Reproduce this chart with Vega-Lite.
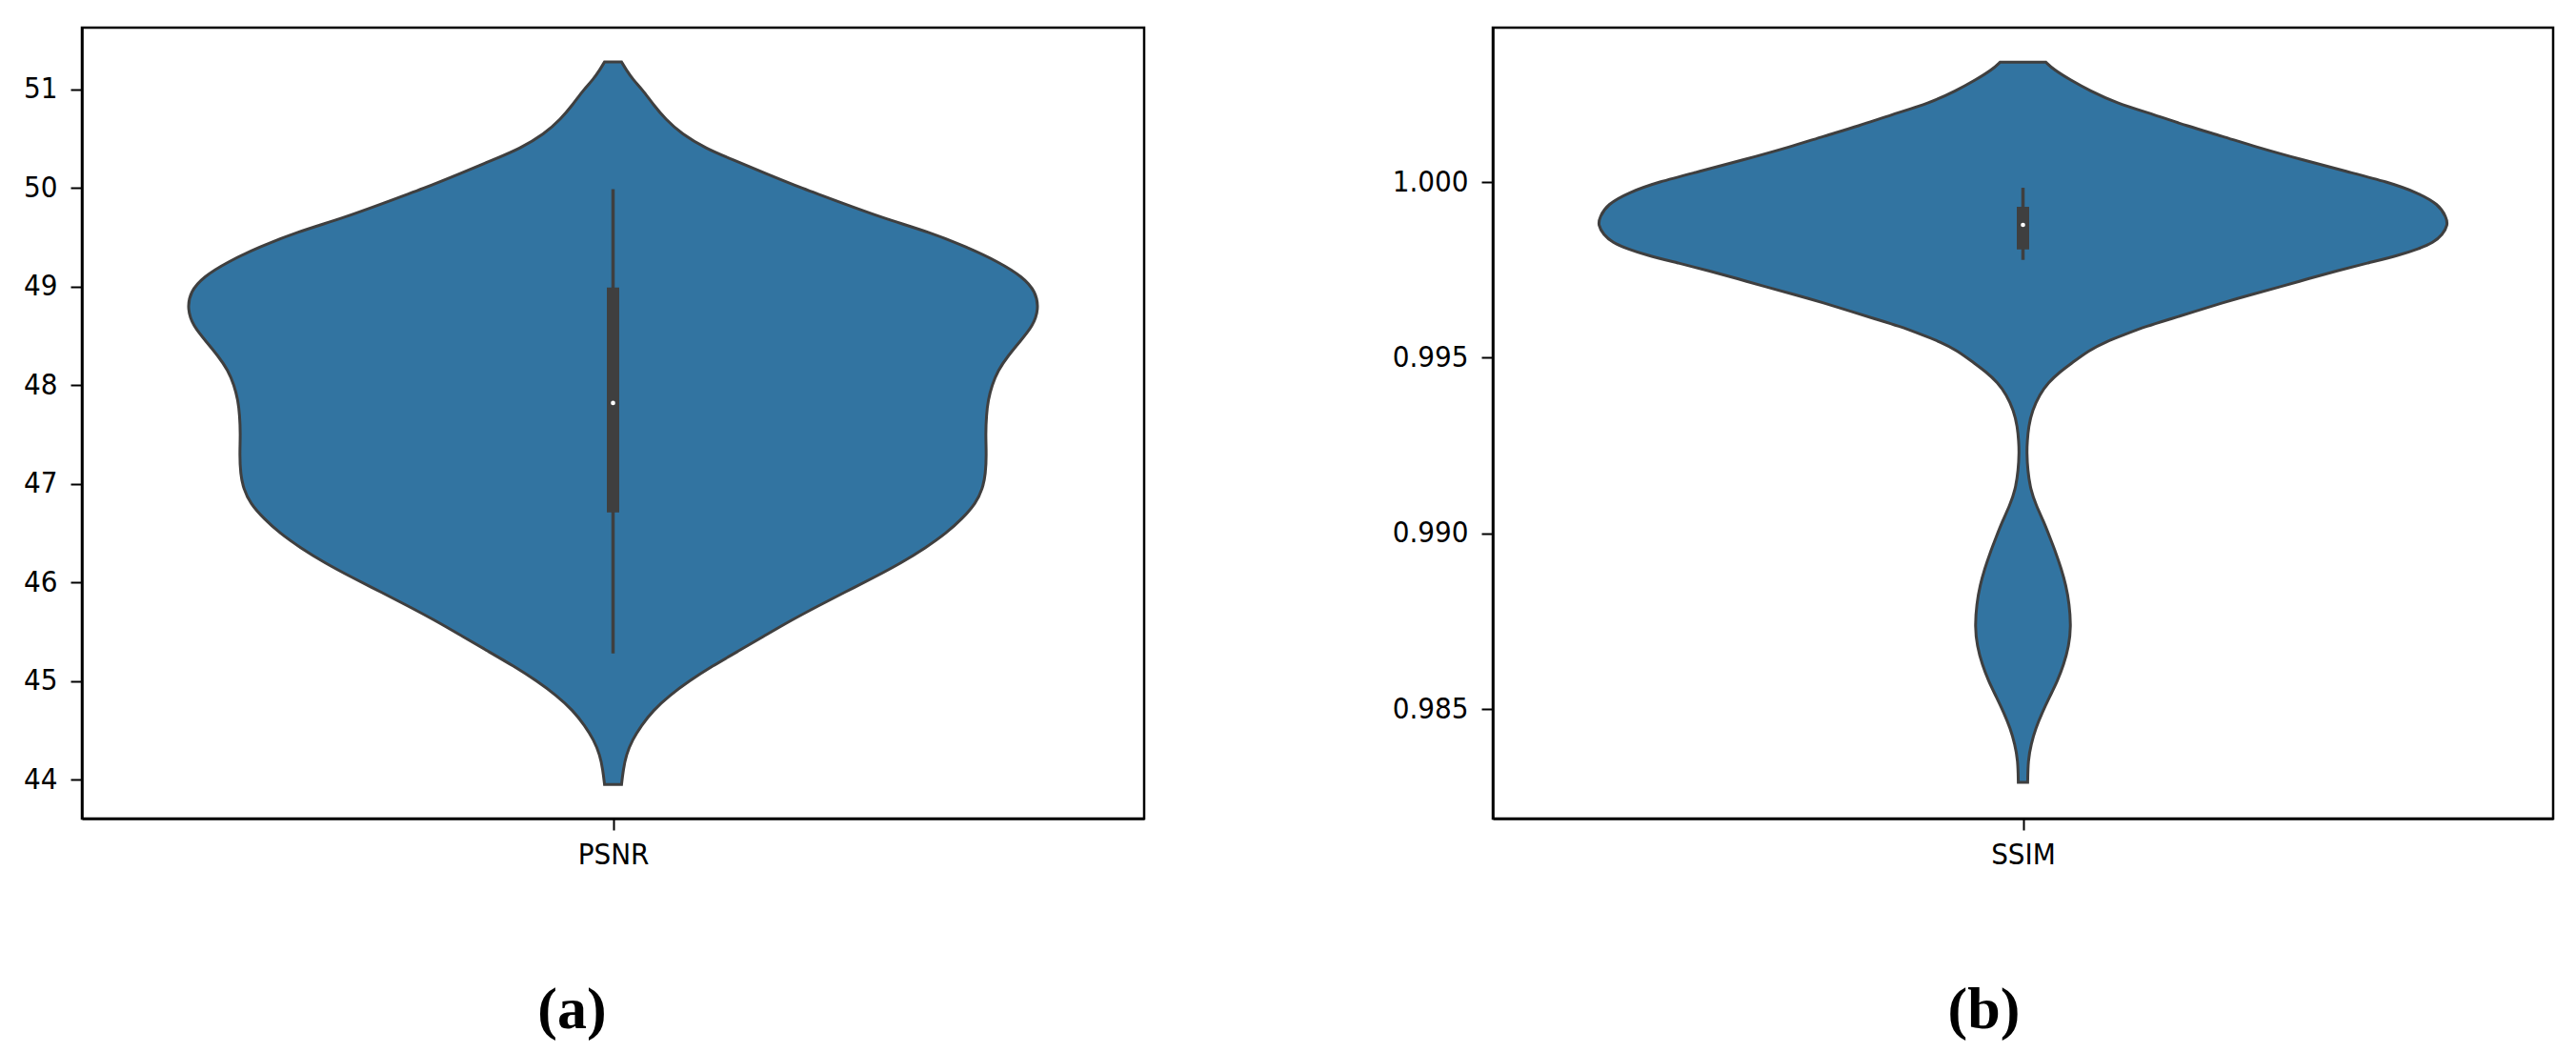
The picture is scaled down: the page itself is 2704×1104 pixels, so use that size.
{
  "$schema": "https://vega.github.io/schema/vega-lite/v6.json",
  "background": "white",
  "padding": {"left": 23, "top": 27, "right": 10, "bottom": 5},
  "spacing": 256,
  "datasets": {
    "psnr": [
      {"value": 51.28, "density": 0.020},
      {"value": 51.20, "density": 0.031},
      {"value": 51.10, "density": 0.047},
      {"value": 51.00, "density": 0.069},
      {"value": 50.85, "density": 0.094},
      {"value": 50.70, "density": 0.123},
      {"value": 50.55, "density": 0.161},
      {"value": 50.40, "density": 0.219},
      {"value": 50.29, "density": 0.280},
      {"value": 50.15, "density": 0.358},
      {"value": 50.00, "density": 0.443},
      {"value": 49.85, "density": 0.537},
      {"value": 49.70, "density": 0.631},
      {"value": 49.55, "density": 0.745},
      {"value": 49.40, "density": 0.832},
      {"value": 49.25, "density": 0.906},
      {"value": 49.10, "density": 0.962},
      {"value": 48.95, "density": 0.993},
      {"value": 48.77, "density": 1.000},
      {"value": 48.60, "density": 0.986},
      {"value": 48.45, "density": 0.957},
      {"value": 48.30, "density": 0.928},
      {"value": 48.15, "density": 0.904},
      {"value": 48.00, "density": 0.890},
      {"value": 47.85, "density": 0.881},
      {"value": 47.70, "density": 0.877},
      {"value": 47.50, "density": 0.875},
      {"value": 47.30, "density": 0.877},
      {"value": 47.10, "density": 0.875},
      {"value": 46.95, "density": 0.868},
      {"value": 46.80, "density": 0.852},
      {"value": 46.65, "density": 0.821},
      {"value": 46.50, "density": 0.783},
      {"value": 46.35, "density": 0.734},
      {"value": 46.20, "density": 0.678},
      {"value": 46.05, "density": 0.613},
      {"value": 45.90, "density": 0.544},
      {"value": 45.75, "density": 0.477},
      {"value": 45.60, "density": 0.412},
      {"value": 45.45, "density": 0.353},
      {"value": 45.30, "density": 0.293},
      {"value": 45.15, "density": 0.233},
      {"value": 45.00, "density": 0.179},
      {"value": 44.85, "density": 0.132},
      {"value": 44.70, "density": 0.094},
      {"value": 44.55, "density": 0.067},
      {"value": 44.40, "density": 0.045},
      {"value": 44.25, "density": 0.031},
      {"value": 44.10, "density": 0.024},
      {"value": 43.95, "density": 0.020}
    ],
    "psnr_box": [
      {"metric": "PSNR", "whisker_lo": 45.28, "q1": 46.71, "median": 47.82, "q3": 48.99, "whisker_hi": 49.99}
    ],
    "ssim": [
      {"value": 1.00341, "density": 0.054},
      {"value": 1.00320, "density": 0.072},
      {"value": 1.00290, "density": 0.112},
      {"value": 1.00260, "density": 0.157},
      {"value": 1.00226, "density": 0.217},
      {"value": 1.00190, "density": 0.313},
      {"value": 1.00160, "density": 0.385},
      {"value": 1.00130, "density": 0.470},
      {"value": 1.00100, "density": 0.548},
      {"value": 1.00063, "density": 0.658},
      {"value": 1.00030, "density": 0.761},
      {"value": 1.00000, "density": 0.859},
      {"value": 0.99970, "density": 0.928},
      {"value": 0.99937, "density": 0.978},
      {"value": 0.99900, "density": 0.996},
      {"value": 0.99878, "density": 1.000},
      {"value": 0.99850, "density": 0.987},
      {"value": 0.99828, "density": 0.966},
      {"value": 0.99810, "density": 0.931},
      {"value": 0.99792, "density": 0.886},
      {"value": 0.99770, "density": 0.812},
      {"value": 0.99747, "density": 0.738},
      {"value": 0.99725, "density": 0.671},
      {"value": 0.99702, "density": 0.606},
      {"value": 0.99680, "density": 0.537},
      {"value": 0.99656, "density": 0.468},
      {"value": 0.99633, "density": 0.407},
      {"value": 0.99611, "density": 0.349},
      {"value": 0.99590, "density": 0.291},
      {"value": 0.99566, "density": 0.239},
      {"value": 0.99545, "density": 0.194},
      {"value": 0.99521, "density": 0.155},
      {"value": 0.99485, "density": 0.115},
      {"value": 0.99460, "density": 0.087},
      {"value": 0.99430, "density": 0.060},
      {"value": 0.99395, "density": 0.039},
      {"value": 0.99350, "density": 0.022},
      {"value": 0.99304, "density": 0.013},
      {"value": 0.99260, "density": 0.010},
      {"value": 0.99232, "density": 0.009},
      {"value": 0.99180, "density": 0.011},
      {"value": 0.99124, "density": 0.018},
      {"value": 0.99080, "density": 0.031},
      {"value": 0.99033, "density": 0.049},
      {"value": 0.98990, "density": 0.063},
      {"value": 0.98943, "density": 0.078},
      {"value": 0.98900, "density": 0.090},
      {"value": 0.98853, "density": 0.101},
      {"value": 0.98800, "density": 0.109},
      {"value": 0.98735, "density": 0.113},
      {"value": 0.98680, "density": 0.108},
      {"value": 0.98627, "density": 0.096},
      {"value": 0.98580, "density": 0.081},
      {"value": 0.98536, "density": 0.063},
      {"value": 0.98490, "density": 0.045},
      {"value": 0.98446, "density": 0.030},
      {"value": 0.98400, "density": 0.019},
      {"value": 0.98355, "density": 0.012},
      {"value": 0.98292, "density": 0.011}
    ],
    "ssim_box": [
      {"metric": "SSIM", "whisker_lo": 0.997785, "q1": 0.998083, "median": 0.99878, "q3": 0.999295, "whisker_hi": 0.999837}
    ]
  },
  "hconcat": [
    {
      "width": 1115,
      "height": 830,
      "layer": [
        {
          "data": {"name": "psnr"},
          "mark": {"type": "area", "orient": "horizontal", "interpolate": "basis", "fill": "#3274a1", "stroke": "#3f3f3f", "strokeWidth": 3, "fillOpacity": 1},
          "encoding": {
            "x": {"field": "density", "type": "quantitative", "stack": "center",
                  "scale": {"domain": [-0.1237, 1.1237], "nice": false, "zero": false},
                  "axis": {"values": [0.5], "labelExpr": "'PSNR'", "labelPadding": 11, "title": "(a)", "titleX": 514, "titleY": 219, "titleBaseline": "alphabetic", "titleAlign": "center", "titleFont": "Liberation Serif", "titleFontWeight": "bold", "titleFontSize": 62}},
            "y": {"field": "value", "type": "quantitative",
                  "scale": {"domain": [43.604, 51.628], "nice": false, "zero": false},
                  "axis": {"values": [44, 45, 46, 47, 48, 49, 50, 51], "format": "d", "title": null}}
          }
        },
        {
          "data": {"name": "psnr_box"},
          "mark": {"type": "rule", "color": "#3f3f3f", "strokeWidth": 3.5},
          "encoding": {
            "x": {"datum": 0.5, "type": "quantitative"},
            "y": {"field": "whisker_lo", "type": "quantitative", "title": null},
            "y2": {"field": "whisker_hi"}
          }
        },
        {
          "data": {"name": "psnr_box"},
          "mark": {"type": "rule", "color": "#3f3f3f", "strokeWidth": 13, "strokeCap": "butt"},
          "encoding": {
            "x": {"datum": 0.5, "type": "quantitative"},
            "y": {"field": "q1", "type": "quantitative", "title": null},
            "y2": {"field": "q3"}
          }
        },
        {
          "data": {"name": "psnr_box"},
          "mark": {"type": "point", "filled": true, "color": "white", "size": 22, "opacity": 1, "strokeWidth": 0},
          "encoding": {
            "x": {"datum": 0.5, "type": "quantitative"},
            "y": {"field": "median", "type": "quantitative", "title": null}
          }
        }
      ]
    },
    {
      "width": 1113,
      "height": 830,
      "layer": [
        {
          "data": {"name": "ssim"},
          "mark": {"type": "area", "orient": "horizontal", "interpolate": "basis", "fill": "#3274a1", "stroke": "#3f3f3f", "strokeWidth": 3, "fillOpacity": 1},
          "encoding": {
            "x": {"field": "density", "type": "quantitative", "stack": "center",
                  "scale": {"domain": [-0.1237, 1.1237], "nice": false, "zero": false},
                  "axis": {"values": [0.5], "labelExpr": "'SSIM'", "labelPadding": 11, "title": "(b)", "titleX": 515, "titleY": 219, "titleBaseline": "alphabetic", "titleAlign": "center", "titleFont": "Liberation Serif", "titleFontWeight": "bold", "titleFontSize": 62}},
            "y": {"field": "value", "type": "quantitative",
                  "scale": {"domain": [0.98189, 1.004393], "nice": false, "zero": false},
                  "axis": {"values": [0.985, 0.99, 0.995, 1.0], "format": ".3f", "title": null}}
          }
        },
        {
          "data": {"name": "ssim_box"},
          "mark": {"type": "rule", "color": "#3f3f3f", "strokeWidth": 3.5},
          "encoding": {
            "x": {"datum": 0.5, "type": "quantitative"},
            "y": {"field": "whisker_lo", "type": "quantitative", "title": null},
            "y2": {"field": "whisker_hi"}
          }
        },
        {
          "data": {"name": "ssim_box"},
          "mark": {"type": "rule", "color": "#3f3f3f", "strokeWidth": 13, "strokeCap": "butt"},
          "encoding": {
            "x": {"datum": 0.5, "type": "quantitative"},
            "y": {"field": "q1", "type": "quantitative", "title": null},
            "y2": {"field": "q3"}
          }
        },
        {
          "data": {"name": "ssim_box"},
          "mark": {"type": "point", "filled": true, "color": "white", "size": 22, "opacity": 1, "strokeWidth": 0},
          "encoding": {
            "x": {"datum": 0.5, "type": "quantitative"},
            "y": {"field": "median", "type": "quantitative", "title": null}
          }
        }
      ]
    }
  ],
  "config": {
    "view": {"stroke": "black", "strokeWidth": 2.5},
    "axis": {
      "grid": false,
      "domainColor": "black",
      "domainWidth": 2.5,
      "tickColor": "black",
      "tickWidth": 2,
      "tickSize": 12,
      "labelFont": "DejaVu Sans Condensed, DejaVu Sans",
      "labelFontSize": 31,
      "labelColor": "black",
      "labelPadding": 14,
      "titleColor": "black"
    }
  }
}
